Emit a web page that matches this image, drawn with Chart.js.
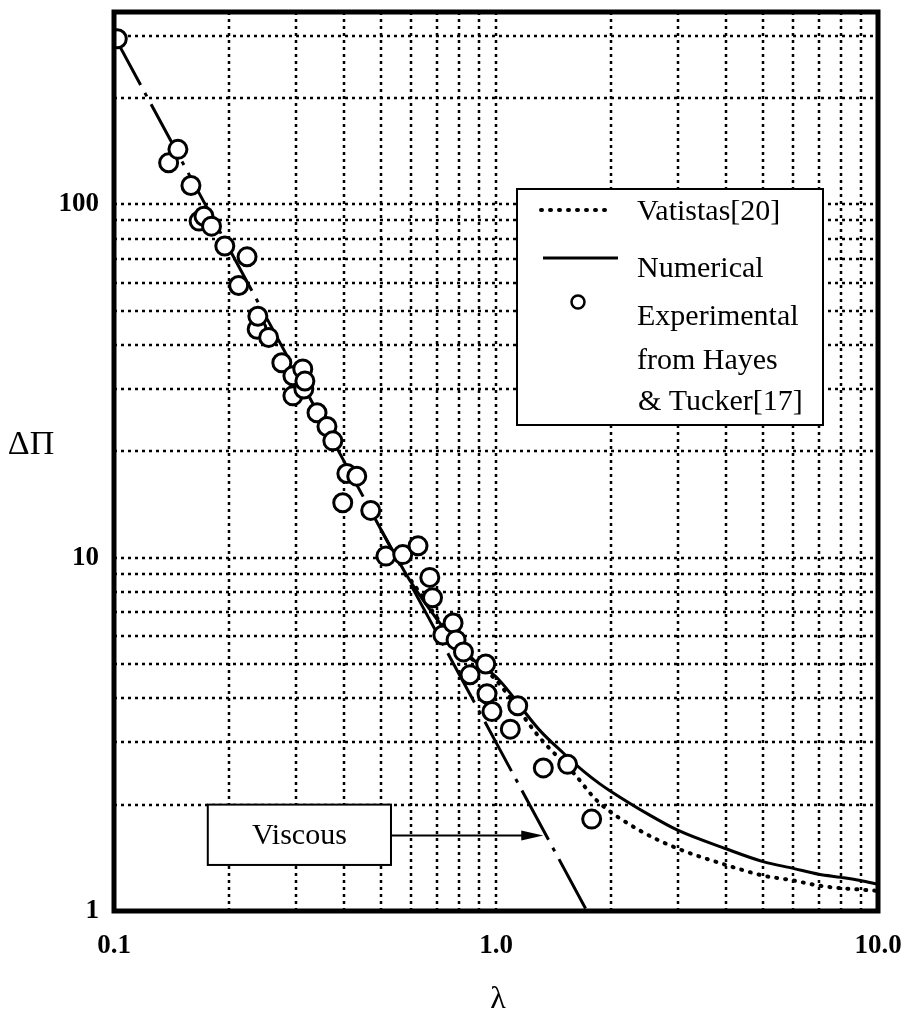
<!DOCTYPE html>
<html>
<head>
<meta charset="utf-8">
<script src="https://cdn.jsdelivr.net/npm/chart.js@4.4.1/dist/chart.umd.min.js"></script>
<style>
  html, body { margin: 0; padding: 0; background: #fff; }
  canvas { display: block; }
</style>
</head>
<body>
<canvas id="pressure-chart" width="906" height="1014"></canvas>
<script>
    // Experimental data (Hayes & Tucker)
    const expLambda  = [0.102, 0.139, 0.147, 0.159, 0.167, 0.172, 0.180, 0.195, 0.212, 0.223,
                        0.237, 0.238, 0.254, 0.275, 0.294, 0.294, 0.312, 0.314, 0.316, 0.340,
                        0.361, 0.374, 0.397, 0.407, 0.432, 0.470, 0.515, 0.570, 0.625, 0.671,
                        0.682, 0.726, 0.772, 0.786, 0.822, 0.855, 0.940, 0.947, 0.976, 1.09,
                        1.14, 1.33, 1.54, 1.78];
    const expDeltaPi = [294, 131, 143, 113, 89.6, 92.5, 86.7, 76.2, 58.9, 71.0,
                        44.3, 48.2, 42.0, 35.6, 32.7, 28.7, 34.2, 30.0, 31.6, 25.7,
                        23.5, 21.4, 14.3, 17.3, 17.0, 13.6, 10.1, 10.2, 10.8, 8.79,
                        7.7, 6.04, 6.53, 5.85, 5.41, 4.66, 5.0, 4.12, 3.67, 3.27,
                        3.81, 2.54, 2.60, 1.82];

    // Numerical solution
    const numLambda  = [0.5, 0.6, 0.7, 0.8, 0.9, 1.0, 1.3, 1.5, 1.7, 1.87,
                        2.0, 2.5, 3.0, 4.0, 5.0, 6.0, 7.0, 8.0, 9.0, 10.0];
    const numDeltaPi = [12.0, 8.5, 6.7, 5.6, 5.0, 4.6, 3.25, 2.8, 2.48, 2.29,
                        2.18, 1.88, 1.69, 1.50, 1.38, 1.32, 1.27, 1.245, 1.22, 1.19];

    // Vatistas[20] correlation
    const vatLambda  = [0.6, 0.8, 1.0, 1.3, 1.6, 1.84, 2.38, 3.0, 4.0, 5.0, 6.0, 7.0, 8.0, 9.0, 10.0];
    const vatDeltaPi = [8.6, 5.6, 4.5, 3.1, 2.45, 2.05, 1.69, 1.50, 1.35, 1.26, 1.22, 1.18, 1.16, 1.15, 1.14];

    // Viscous limit
    const viscLambda  = [0.1, 1.0, 1.73];
    const viscDeltaPi = [300, 3.0, 1.0];

    // Grid / tick values
    const xTickValues = [0.1, 0.2, 0.3, 0.4, 0.5, 0.6, 0.7, 0.8, 0.9, 1, 2, 3, 4, 5, 6, 7, 8, 9, 10];
    const xTickLabels = { 0.1: '0.1', 1: '1.0', 10: '10.0' };
    const yTickValues = [1, 2, 3, 4, 5, 6, 7, 8, 9, 10, 20, 30, 40, 50, 60, 70, 80, 90, 100, 200, 300];
    const yTickLabels = { 1: '1', 10: '10', 100: '100' };

    const legendLines = ['Vatistas[20]', 'Numerical', 'Experimental', 'from Hayes', '& Tucker[17]'];

    const SERIF = '"Liberation Serif", "DejaVu Serif", serif';

    function toPoints(xs, ys) {
        return xs.map((x, i) => ({ x: x, y: ys[i] }));
    }

    // dotted grid on every tick of both log axes
    const dottedGrid = {
        id: 'dottedGrid',
        beforeDatasetsDraw(chart) {
            const ctx = chart.ctx;
            const area = chart.chartArea;
            ctx.save();
            ctx.strokeStyle = '#000';
            ctx.lineWidth = 2.5;
            ctx.setLineDash([3, 4]);
            chart.scales.x.ticks.forEach(t => {
                const px = Math.round(chart.scales.x.getPixelForValue(t.value));
                if (px <= area.left + 2 || px >= area.right - 2) return;
                ctx.beginPath();
                ctx.moveTo(px, area.top);
                ctx.lineTo(px, area.bottom);
                ctx.stroke();
            });
            chart.scales.y.ticks.forEach(t => {
                const py = Math.round(chart.scales.y.getPixelForValue(t.value));
                if (py <= area.top + 2 || py >= area.bottom - 2) return;
                ctx.beginPath();
                ctx.moveTo(area.left, py);
                ctx.lineTo(area.right, py);
                ctx.stroke();
            });
            ctx.restore();
        }
    };

    // frame, legend, "Viscous" callout and axis titles
    const decorations = {
        id: 'decorations',
        afterDatasetsDraw(chart) {
            const ctx = chart.ctx;
            const area = chart.chartArea;
            const xs = chart.scales.x;
            const ys = chart.scales.y;
            ctx.save();

            // legend box
            const lx = area.left + 403, ly = area.top + 177, lw = 306, lh = 236;
            ctx.fillStyle = '#fff';
            ctx.fillRect(lx, ly, lw, lh);
            ctx.strokeStyle = '#000';
            ctx.lineWidth = 2;
            ctx.strokeRect(lx, ly, lw, lh);

            ctx.lineCap = 'round';
            ctx.lineWidth = 4;
            ctx.setLineDash([1, 8]);
            ctx.beginPath();
            ctx.moveTo(lx + 24, ly + 21);
            ctx.lineTo(lx + 92, ly + 21);
            ctx.stroke();
            ctx.setLineDash([]);
            ctx.lineCap = 'butt';
            ctx.lineWidth = 3;
            ctx.beginPath();
            ctx.moveTo(lx + 26, ly + 69);
            ctx.lineTo(lx + 101, ly + 69);
            ctx.stroke();
            ctx.lineWidth = 2.5;
            ctx.beginPath();
            ctx.arc(lx + 61, ly + 113, 6.5, 0, Math.PI * 2);
            ctx.stroke();

            ctx.fillStyle = '#000';
            ctx.font = '30px ' + SERIF;
            ctx.textAlign = 'left';
            ctx.textBaseline = 'alphabetic';
            const baselines = [31, 88, 136, 180, 221];
            legendLines.forEach((t, i) => {
                ctx.fillText(t, lx + 120 + (i === 4 ? 1 : 0), ly + baselines[i]);
            });

            // "Viscous" callout, placed in data coordinates
            const bx0 = xs.getPixelForValue(0.176), bx1 = xs.getPixelForValue(0.531);
            const by0 = ys.getPixelForValue(2.0), by1 = ys.getPixelForValue(1.35);
            ctx.fillStyle = '#fff';
            ctx.fillRect(bx0, by0, bx1 - bx0, by1 - by0);
            ctx.strokeStyle = '#000';
            ctx.lineWidth = 2;
            ctx.strokeRect(bx0, by0, bx1 - bx0, by1 - by0);
            ctx.fillStyle = '#000';
            ctx.font = '30px ' + SERIF;
            ctx.textAlign = 'center';
            ctx.textBaseline = 'middle';
            ctx.fillText('Viscous', (bx0 + bx1) / 2, (by0 + by1) / 2 + 1);

            // arrow to the viscous line (log-log interpolation on the last segment)
            const arrowVal = 1.635;
            const n = viscLambda.length;
            const t = (Math.log(arrowVal) - Math.log(viscDeltaPi[n - 2])) /
                      (Math.log(viscDeltaPi[n - 1]) - Math.log(viscDeltaPi[n - 2]));
            const tipLambda = Math.exp(Math.log(viscLambda[n - 2]) +
                              t * (Math.log(viscLambda[n - 1]) - Math.log(viscLambda[n - 2])));
            const ay = ys.getPixelForValue(arrowVal);
            const tipX = xs.getPixelForValue(tipLambda) - 3;
            ctx.lineWidth = 2;
            ctx.beginPath();
            ctx.moveTo(bx1, ay);
            ctx.lineTo(tipX - 18, ay);
            ctx.stroke();
            ctx.beginPath();
            ctx.moveTo(tipX, ay);
            ctx.lineTo(tipX - 22, ay - 5);
            ctx.lineTo(tipX - 22, ay + 5);
            ctx.closePath();
            ctx.fill();

            // heavy frame
            ctx.lineWidth = 5;
            ctx.strokeRect(area.left, area.top, area.right - area.left, area.bottom - area.top);

            // axis titles
            ctx.font = '34px ' + SERIF;
            ctx.textAlign = 'center';
            ctx.textBaseline = 'middle';
            ctx.fillText('\u0394\u03A0', 31, 445);
            ctx.font = '32px ' + SERIF;
            ctx.fillText('\u03BB', (area.left + area.right) / 2 + 2, 1000);
            ctx.restore();
        }
    };

    const ctx = document.getElementById('pressure-chart').getContext('2d');
    new Chart(ctx, {
        type: 'line',
        data: {
            datasets: [
                {
                    label: 'Experimental from Hayes & Tucker[17]',
                    data: toPoints(expLambda, expDeltaPi),
                    showLine: false,
                    pointRadius: 9,
                    pointBorderWidth: 3,
                    pointBackgroundColor: '#fff',
                    pointBorderColor: '#000'
                },
                {
                    label: 'Numerical',
                    data: toPoints(numLambda, numDeltaPi),
                    borderColor: '#000',
                    borderWidth: 3,
                    pointRadius: 0,
                    cubicInterpolationMode: 'monotone'
                },
                {
                    label: 'Vatistas[20]',
                    data: toPoints(vatLambda, vatDeltaPi),
                    borderColor: '#000',
                    borderWidth: 4,
                    borderDash: [1, 8],
                    borderCapStyle: 'round',
                    pointRadius: 0,
                    cubicInterpolationMode: 'monotone'
                },
                {
                    label: 'Viscous',
                    data: toPoints(viscLambda, viscDeltaPi),
                    borderColor: '#000',
                    borderWidth: 3,
                    borderDash: [56, 9, 4, 9],
                    pointRadius: 0
                }
            ]
        },
        options: {
            responsive: false,
            animation: false,
            layout: { padding: { top: 5, right: 28, left: 0, bottom: 0 } },
            plugins: {
                legend: { display: false },
                tooltip: { enabled: false }
            },
            scales: {
                x: {
                    type: 'logarithmic',
                    min: 0.1,
                    max: 10,
                    afterBuildTicks: (scale) => { scale.ticks = xTickValues.map(v => ({ value: v })); },
                    afterFit: (scale) => {
                        scale.height = 103;
                        scale.paddingLeft = 0;
                        scale.paddingRight = 0;
                    },
                    ticks: {
                        autoSkip: false,
                        maxRotation: 0,
                        padding: 19,
                        color: '#000',
                        font: { family: SERIF, size: 27, weight: 'bold' },
                        callback: (v) => xTickLabels[v] || ''
                    },
                    grid: { display: false, drawTicks: false },
                    border: { display: false }
                },
                y: {
                    type: 'logarithmic',
                    min: 1,
                    max: 350,
                    afterBuildTicks: (scale) => { scale.ticks = yTickValues.map(v => ({ value: v })); },
                    afterFit: (scale) => {
                        scale.width = 114;
                        scale.paddingTop = 0;
                        scale.paddingBottom = 0;
                    },
                    ticks: {
                        autoSkip: false,
                        padding: 15,
                        color: '#000',
                        font: { family: SERIF, size: 27, weight: 'bold' },
                        callback: (v) => yTickLabels[v] || ''
                    },
                    grid: { display: false, drawTicks: false },
                    border: { display: false }
                }
            }
        },
        plugins: [dottedGrid, decorations]
    });
</script>
</body>
</html>
